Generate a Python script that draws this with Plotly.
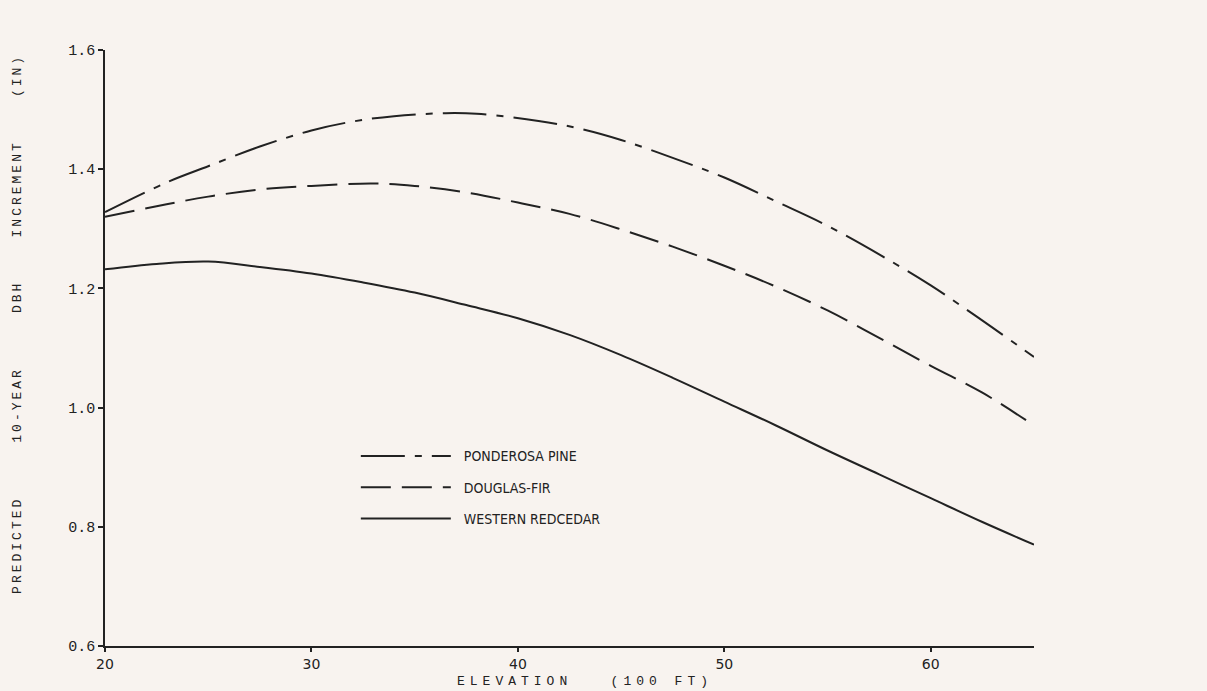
import plotly.graph_objects as go

# ---- data ----
elev_pp = [20, 23, 25, 27.5, 30, 32, 34, 36.5, 38, 41, 43, 45, 47.5, 50, 52.5, 55, 58, 60, 62, 65]
pp_vals = [1.328, 1.378, 1.405, 1.438, 1.465, 1.480, 1.489, 1.494, 1.493, 1.481, 1.468, 1.449,
           1.419, 1.386, 1.346, 1.305, 1.247, 1.205, 1.158, 1.085]

elev_df = [20, 22.5, 25, 27.5, 30, 33, 35, 37.5, 40, 42.5, 45, 47.5, 50, 52.5, 55, 57.5, 60, 62.5, 65]
df_vals = [1.320, 1.338, 1.354, 1.366, 1.372, 1.376, 1.372, 1.361, 1.344, 1.325, 1.299, 1.270,
           1.238, 1.203, 1.163, 1.117, 1.070, 1.025, 0.970]

elev_wr = [20, 22.5, 25, 27.5, 30, 32.5, 35, 37.5, 40, 42.5, 45, 47.5, 50, 52.5, 55, 57.5, 60, 62.5, 65]
wr_vals = [1.232, 1.241, 1.245, 1.236, 1.225, 1.210, 1.193, 1.172, 1.150, 1.122, 1.088, 1.050,
           1.010, 0.970, 0.928, 0.888, 0.848, 0.808, 0.770]

series_names = ["PONDEROSA PINE", "DOUGLAS-FIR", "WESTERN REDCEDAR"]
x_ticks = [20, 30, 40, 50, 60]
x_tick_labels = ["20", "30", "40", "50", "60"]
y_ticks = [0.6, 0.8, 1.0, 1.2, 1.4, 1.6]
y_tick_labels = ["0.6", "0.8", "1.0", "1.2", "1.4", "1.6"]
x_title_words = ["ELEVATION", "(100 FT)"]
y_title_words = ["PREDICTED", "10-YEAR", "DBH", "INCREMENT", "(IN)"]

INK = "#222222"
BG = "#f8f3ef"
SP = "&nbsp;"

fig = go.Figure()
fig.add_trace(go.Scatter(x=elev_pp, y=pp_vals, mode="lines", name=SP * 2 + series_names[0],
                         legendgroup="a",
                         line=dict(color=INK, width=2, dash="44px,10px,7px,10px", shape="spline")))
fig.add_trace(go.Scatter(x=elev_df, y=df_vals, mode="lines", name=SP * 2 + series_names[1],
                         legendgroup="b",
                         line=dict(color=INK, width=2, dash="30px,11px", shape="spline")))
fig.add_trace(go.Scatter(x=elev_wr, y=wr_vals, mode="lines", name=SP * 2 + series_names[2],
                         legendgroup="c",
                         line=dict(color=INK, width=2, shape="spline")))

ytitle = ('<span style="letter-spacing:3px">' + y_title_words[0] + SP * 5 + y_title_words[1]
          + SP * 5 + y_title_words[2] + SP * 4 + y_title_words[3] + SP * 4 + y_title_words[4]
          + '</span>')
xtitle = ('<span style="letter-spacing:5px">' + x_title_words[0] + SP * 3 + x_title_words[1]
          + '</span>')

fig.update_layout(
    template="none",
    width=1207, height=691,
    paper_bgcolor=BG, plot_bgcolor=BG,
    margin=dict(l=105, r=173, t=50, b=45),
    showlegend=True,
    legend=dict(x=0.27, y=0.345, xanchor="left", yanchor="top",
                bgcolor="rgba(0,0,0,0)", itemwidth=90, tracegroupgap=10,
                font=dict(family="DejaVu Sans Condensed, Liberation Sans Narrow, sans-serif",
                          size=14, color=INK)),
    xaxis=dict(range=[20, 65], tickvals=x_ticks, ticktext=x_tick_labels, automargin=False,
               showgrid=False, zeroline=False, showline=True, linecolor=INK, linewidth=1.5,
               ticks="outside", ticklen=4, tickcolor=INK, tickwidth=1.5,
               tickfont=dict(family="DejaVu Sans, sans-serif", size=14, color=INK)),
    yaxis=dict(range=[0.6, 1.6], tickvals=y_ticks, ticktext=y_tick_labels, automargin=False,
               showgrid=False, zeroline=False, showline=True, linecolor=INK, linewidth=1.5,
               ticks="outside", ticklen=5, tickcolor=INK, tickwidth=1.5,
               tickfont=dict(family="Liberation Mono, monospace", size=15, color=INK)),
    annotations=[
        dict(text=xtitle, xref="paper", yref="paper", x=0.517, y=-0.059,
             xanchor="center", yanchor="middle", showarrow=False,
             font=dict(family="Liberation Mono, monospace", size=13, color=INK)),
        dict(text=ytitle, xref="paper", yref="paper", x=-0.095, y=0.54,
             xanchor="center", yanchor="middle", textangle=-90, showarrow=False,
             font=dict(family="Liberation Mono, monospace", size=13, color=INK)),
    ],
)

fig.write_html("out.html")
